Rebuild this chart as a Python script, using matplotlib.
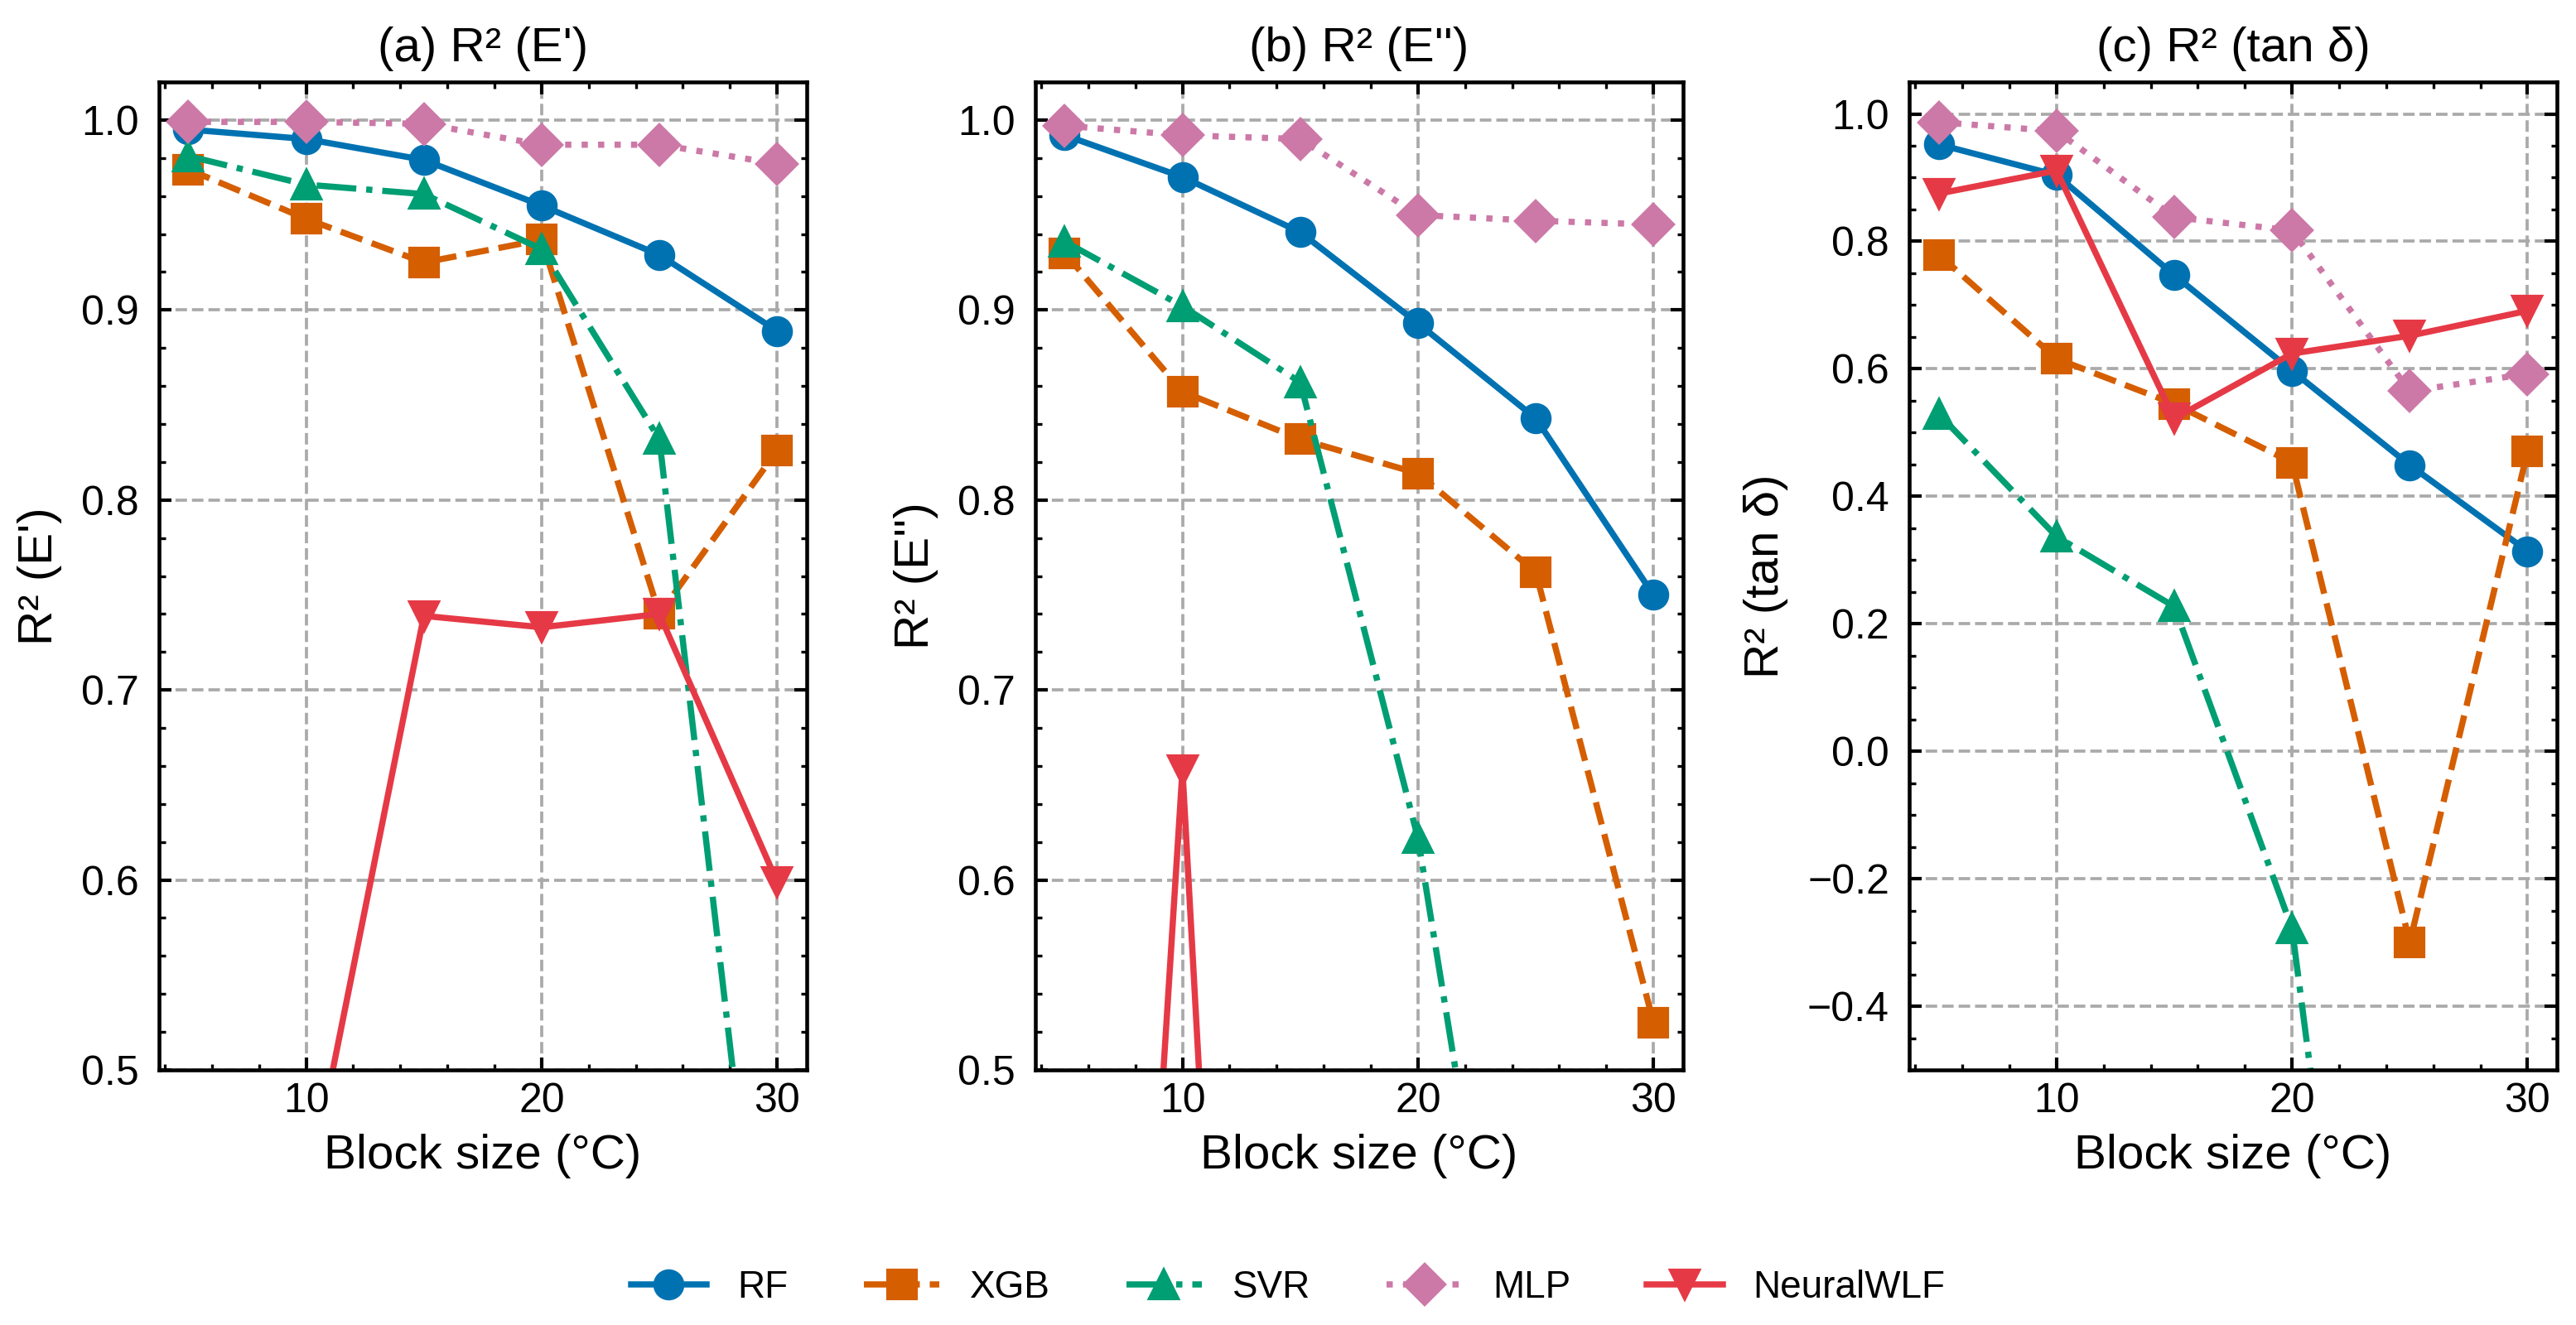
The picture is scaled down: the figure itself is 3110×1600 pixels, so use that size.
import matplotlib
matplotlib.use("Agg")
import matplotlib.pyplot as plt
from matplotlib.ticker import MultipleLocator

plt.rcParams['font.family'] = ['Liberation Sans', 'DejaVu Sans']

# block sizes (°C)
block_size = [5, 10, 15, 20, 25, 30]
models = ['RF', 'XGB', 'SVR', 'MLP', 'NeuralWLF']

# R² for E'
r2_e1_rf = [0.995, 0.990, 0.979, 0.955, 0.929, 0.889]
r2_e1_xgb = [0.974, 0.948, 0.925, 0.937, 0.740, 0.826]
r2_e1_svr = [0.981, 0.966, 0.961, 0.932, 0.832, 0.300]
r2_e1_mlp = [0.999, 0.999, 0.998, 0.987, 0.987, 0.977]
r2_e1_nwlf = [0.350, 0.430, 0.739, 0.733, 0.740, 0.599]

# R² for E''
r2_e2_rf = [0.992, 0.970, 0.941, 0.893, 0.843, 0.750]
r2_e2_xgb = [0.930, 0.857, 0.832, 0.814, 0.762, 0.525]
r2_e2_svr = [0.936, 0.902, 0.862, 0.622, 0.240, 0.050]
r2_e2_mlp = [0.997, 0.992, 0.990, 0.950, 0.947, 0.945]
r2_e2_nwlf = [-0.320, 0.658, -0.470, -0.600, -0.400, -0.500]

# R² for tan delta
r2_tan_rf = [0.952, 0.904, 0.747, 0.597, 0.449, 0.314]
r2_tan_xgb = [0.779, 0.616, 0.545, 0.453, -0.300, 0.470]
r2_tan_svr = [0.529, 0.337, 0.227, -0.278, -1.700, -2.500]
r2_tan_mlp = [0.987, 0.973, 0.838, 0.817, 0.565, 0.592]
r2_tan_nwlf = [0.875, 0.911, 0.522, 0.624, 0.652, 0.691]

colors = ['#0072B2', '#D55E00', '#009E73', '#CC79A7', '#E63946']
markers = ['o', 's', '^', 'D', 'v']
linestyles = ['-', '--', '-.', ':', '-']

panels = [
    ("(a) R² (E')", "R² (E')", [r2_e1_rf, r2_e1_xgb, r2_e1_svr, r2_e1_mlp, r2_e1_nwlf], (0.5, 1.02), 0.1, 0.02),
    ("(b) R² (E'')", "R² (E'')", [r2_e2_rf, r2_e2_xgb, r2_e2_svr, r2_e2_mlp, r2_e2_nwlf], (0.5, 1.02), 0.1, 0.02),
    ("(c) R² (tan δ)", "R² (tan δ)", [r2_tan_rf, r2_tan_xgb, r2_tan_svr, r2_tan_mlp, r2_tan_nwlf], (-0.5, 1.05), 0.2, 0.05),
]

fig = plt.figure(figsize=(3110 / 300, 1600 / 300), dpi=300)
lefts = [0.0617, 0.4019, 0.7412]

for left, (title, ylabel, series, ylim, ymaj, ymin) in zip(lefts, panels):
    ax = fig.add_axes([left, 0.1925, 0.2514, 0.7456])
    for name, vals, c, m, ls in zip(models, series, colors, markers, linestyles):
        ax.plot(block_size, vals, color=c, marker=m, linestyle=ls, lw=1.8,
                markersize=8, label=name)
    ax.set_xlim(3.75, 31.25)
    ax.set_ylim(*ylim)
    ax.xaxis.set_major_locator(MultipleLocator(10))
    ax.xaxis.set_minor_locator(MultipleLocator(2))
    ax.yaxis.set_major_locator(MultipleLocator(ymaj))
    ax.yaxis.set_minor_locator(MultipleLocator(ymin))
    ax.tick_params(which='both', direction='in', top=True, right=True, labelsize=12)
    ax.tick_params(which='major', length=3.5, width=1.0)
    ax.tick_params(which='minor', length=1.8, width=0.8)
    ax.tick_params(axis='y', which='major', pad=5.8)
    for sp in ax.spines.values():
        sp.set_linewidth(1.1)
    ax.grid(True, which='major', linestyle='--', color='#aaaaaa', lw=0.9)
    ax.set_axisbelow(True)
    ax.set_title(title, fontsize=14, pad=6)
    ax.set_xlabel('Block size (°C)', fontsize=14, labelpad=4)
    ax.set_ylabel(ylabel, fontsize=14, labelpad=5.5)

handles, labels = ax.get_legend_handles_labels()
fig.legend(handles, labels, loc='center', bbox_to_anchor=(0.5, 0.028), ncol=5,
           frameon=False, fontsize=11)

fig.savefig('out.png', dpi=300)
